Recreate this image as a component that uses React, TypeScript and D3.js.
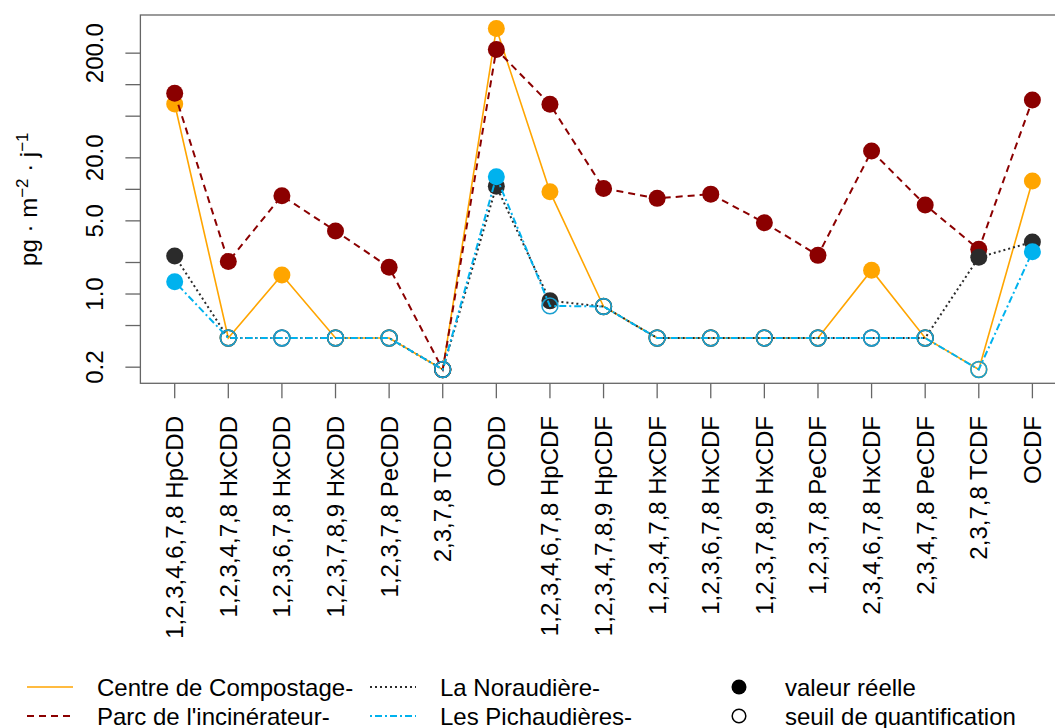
import React from "react";
import * as d3 from "d3";

const categories = [
  "1,2,3,4,6,7,8 HpCDD",
  "1,2,3,4,7,8 HxCDD",
  "1,2,3,6,7,8 HxCDD",
  "1,2,3,7,8,9 HxCDD",
  "1,2,3,7,8 PeCDD",
  "2,3,7,8 TCDD",
  "OCDD",
  "1,2,3,4,6,7,8 HpCDF",
  "1,2,3,4,7,8,9 HpCDF",
  "1,2,3,4,7,8 HxCDF",
  "1,2,3,6,7,8 HxCDF",
  "1,2,3,7,8,9 HxCDF",
  "1,2,3,7,8 PeCDF",
  "2,3,4,6,7,8 HxCDF",
  "2,3,4,7,8 PeCDF",
  "2,3,7,8 TCDF",
  "OCDF",
];

// values (pg.m-2.j-1); "real" flags: 1 = valeur réelle, 0 = seuil de quantification
const compostValues = [65.3, 0.38, 1.52, 0.38, 0.38, 0.19, 344, 9.5, 0.76, 0.38, 0.38, 0.38, 0.38, 1.69, 0.38, 0.19, 12.0];
const compostReal = [1, 0, 1, 0, 0, 0, 1, 1, 0, 0, 0, 0, 0, 1, 0, 0, 1];
const parcValues = [82.6, 2.04, 8.7, 4.0, 1.8, 0.19, 217, 65, 10.2, 8.2, 9.0, 4.8, 2.34, 23.2, 7.1, 2.67, 71.3];
const parcReal = [1, 1, 1, 1, 1, 0, 1, 1, 1, 1, 1, 1, 1, 1, 1, 1, 1];
const noraudiereValues = [2.31, 0.38, 0.38, 0.38, 0.38, 0.19, 10.7, 0.86, 0.76, 0.38, 0.38, 0.38, 0.38, 0.38, 0.38, 2.24, 3.14];
const noraudiereReal = [1, 0, 0, 0, 0, 0, 1, 1, 0, 0, 0, 0, 0, 0, 0, 1, 1];
const pichaudieresValues = [1.31, 0.38, 0.38, 0.38, 0.38, 0.19, 13.2, 0.77, 0.76, 0.38, 0.38, 0.38, 0.38, 0.38, 0.38, 0.19, 2.54];
const pichaudieresReal = [1, 0, 0, 0, 0, 0, 1, 0, 0, 0, 0, 0, 0, 0, 0, 0, 1];

const seriesNames = ["Centre de Compostage-", "Parc de l'incinérateur-", "La Noraudière-", "Les Pichaudières-"];

const yTicks = [0.2, 0.5, 1, 2, 5, 10, 20, 50, 100, 200];
const yTickLabels = ["0.2", "", "1.0", "", "5.0", "", "20.0", "", "", "200.0"];

const FONT = "'Liberation Sans', Arial, Helvetica, sans-serif";

const series = [
  { name: seriesNames[0], values: compostValues, real: compostReal, color: "#FFA500", open: "#FFA500", dash: "none", width: 1.6 },
  { name: seriesNames[1], values: parcValues, real: parcReal, color: "#8B0000", open: "#8B0000", dash: "7,5", width: 2 },
  { name: seriesNames[2], values: noraudiereValues, real: noraudiereReal, color: "#2B2B2B", open: "#2B2B2B", dash: "2,3", width: 2 },
  { name: seriesNames[3], values: pichaudieresValues, real: pichaudieresReal, color: "#00B2EE", open: "#1A9FD0", dash: "2,3,7,3", width: 2 },
];

export default function App() {
  const W = 1055;
  const H = 728;
  const x = d3.scaleLinear().domain([0, 16]).range([174.7, 1032.4]);
  const y = d3.scaleLog().domain([0.1403, 463]).range([383.3, 15]);
  const left = x(-0.64);
  const right = x(16.64);
  const top = 15;
  const bottom = 383.3;
  const line = d3
    .line<number>()
    .x((_, i) => x(i))
    .y((d) => y(d));
  const r = 8.5;

  return (
    <svg width={W} height={H} style={{ position: "absolute", left: 0, top: 0, background: "#fff" }}>
      {/* box */}
      <rect x={left} y={top} width={right - left} height={bottom - top} fill="none" stroke="#666" strokeWidth={1.3} />
      {/* y axis ticks */}
      {yTicks.map((t, i) => (
        <g key={"yt" + i}>
          <line x1={left - 15} x2={left} y1={y(t)} y2={y(t)} stroke="#666" strokeWidth={1.3} />
          {yTickLabels[i] && (
            <text
              transform={`translate(${left - 37},${y(t)}) rotate(-90)`}
              textAnchor="middle"
              fontFamily={FONT}
              fontSize={24}
              fill="#000"
            >
              {yTickLabels[i]}
            </text>
          )}
        </g>
      ))}
      {/* y title */}
      <text transform={`translate(37,${(top + bottom) / 2}) rotate(-90)`} textAnchor="middle" fontFamily={FONT} fontSize={24} fill="#000">
        <tspan>pg · m</tspan>
        <tspan dy={-9} fontSize={17}>−2</tspan>
        <tspan dy={9}> · j</tspan>
        <tspan dy={-9} fontSize={17}>−1</tspan>
      </text>
      {/* x axis ticks and labels */}
      {categories.map((c, i) => (
        <g key={"xt" + i}>
          <line x1={x(i)} x2={x(i)} y1={bottom} y2={bottom + 15} stroke="#666" strokeWidth={1.3} />
          <text
            transform={`translate(${x(i) + 8.5},${416}) rotate(-90)`}
            textAnchor="end"
            fontFamily={FONT}
            fontSize={24}
            fill="#000"
          >
            {c}
          </text>
        </g>
      ))}
      {/* series */}
      {series.map((s, si) => (
        <g key={"s" + si}>
          <path d={line(s.values) || ""} fill="none" stroke={s.color} strokeWidth={s.width} strokeDasharray={s.dash} />
          {s.values.map((v, i) =>
            s.real[i] ? (
              <circle key={i} cx={x(i)} cy={y(v)} r={r} fill={s.color} />
            ) : (
              <circle key={i} cx={x(i)} cy={y(v)} r={r - 0.6} fill="none" stroke={s.open} strokeWidth={1.6} />
            )
          )}
        </g>
      ))}
      {/* legend */}
      {series.map((s, si) => {
        const col = si < 2 ? 0 : 1;
        const row = si % 2;
        const lx = col === 0 ? 27 : 370;
        const ly = row === 0 ? 687 : 716;
        return (
          <g key={"lg" + si}>
            <line x1={lx} x2={lx + 46} y1={ly} y2={ly} stroke={s.color} strokeWidth={s.width} strokeDasharray={s.dash} />
            <text x={lx + 70} y={ly + 8.5} fontFamily={FONT} fontSize={24} fill="#000">
              {s.name}
            </text>
          </g>
        );
      })}
      <circle cx={739} cy={687} r={7.5} fill="#000" />
      <text x={785} y={695.5} fontFamily={FONT} fontSize={24} fill="#000">valeur réelle</text>
      <circle cx={739} cy={716} r={6.8} fill="none" stroke="#000" strokeWidth={1.5} />
      <text x={785} y={724.5} fontFamily={FONT} fontSize={24} fill="#000">seuil de quantification</text>
    </svg>
  );
}
